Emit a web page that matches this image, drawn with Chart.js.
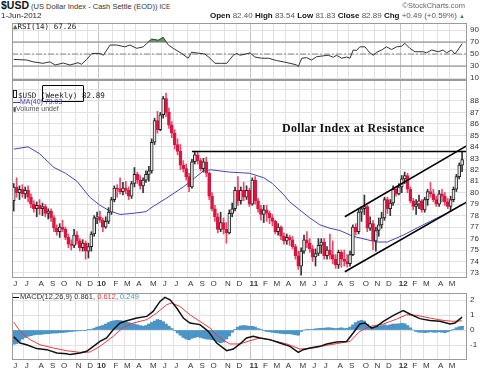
<!DOCTYPE html>
<html>
<head>
<meta charset="utf-8">
<script src="https://cdn.jsdelivr.net/npm/chart.js@4/dist/chart.umd.min.js"></script>
<style>
body { margin: 0; background: #fff; }
#wrap { position: relative; width: 489px; height: 371px; overflow: hidden; font-family: "Liberation Sans", Arial, sans-serif; color: #222; }
canvas { position: absolute; left: 0; }
.t { position: absolute; white-space: nowrap; line-height: 1; }
.mono { font-family: "DejaVu Sans Mono", monospace; }
</style>
</head>
<body>
<div id="wrap">
<canvas id="rsi" width="489" height="57" style="top:23px"></canvas>
<canvas id="price" width="489" height="210" style="top:80px"></canvas>
<canvas id="macd" width="489" height="78" style="top:293px"></canvas>

<div class="t" style="left:1px;top:0px;font-size:7.5px;color:#333"><b style="font-size:10.5px;color:#111">$USD</b> (US Dollar Index - Cash Settle (EOD)) <span style="font-size:6.5px">ICE</span></div>
<div class="t" style="right:24px;top:2px;font-size:7.5px;color:#666">&copy;StockCharts.com</div>
<div class="t" style="left:1px;top:12px;font-size:8px;color:#222">1-Jun-2012</div>
<div class="t" style="right:24px;top:12px;font-size:8px;color:#555"><b style="color:#111">Open</b> 82.40 <b style="color:#111">High</b> 83.54 <b style="color:#111">Low</b> 81.83 <b style="color:#111">Close</b> 82.89 <b style="color:#111">Chg</b> +0.49 (+0.59%) <span style="color:#3a8a3a;font-size:6px">&#9650;</span></div>

<div class="t mono" style="left:13px;top:23px;font-size:7.5px;color:#222"><span style="color:#3a7a3a">&#9650;</span>RSI(14) 67.26</div>

<div class="t mono" style="left:13px;top:90px;font-size:7.6px;color:#222"><span style="display:inline-block;width:2px;height:6px;border:1px solid #222;margin-right:1px"></span>$USD (Weekly) 82.89</div>
<div class="t" style="left:42px;top:85px;width:40px;height:15px;border:1px solid #000;border-radius:1px"></div>
<div class="t" style="left:13px;top:98px;font-size:7px;color:#3b3bb0"><span style="display:inline-block;width:7px;border-top:1.5px solid #3b3bb0;vertical-align:middle"></span>MA(40) 79.03</div>
<div class="t" style="left:13px;top:105px;font-size:7px;color:#555"><span style="font-size:6px">&#9646;</span>Volume undef</div>

<div class="t" style="left:282px;top:122px;font-family:'Liberation Serif','DejaVu Serif',serif;font-weight:bold;font-size:12px;letter-spacing:0.3px;color:#111">Dollar Index at Resistance</div>

<div class="t" style="left:13px;top:293px;font-size:7.5px;color:#333"><span style="display:inline-block;width:6px;border-top:1.5px solid #000;vertical-align:middle;margin-right:1px"></span>MACD(12,26,9) 0.861, <span style="color:#f03a3a">0.612</span>, <span style="color:#3c9ad0">0.249</span></div>
</div>

<script>
// weekly bars, week 0 = 5-Jun-2009 ... week 156 = 1-Jun-2012
const opens = [
  79.3, 80.5, 80.0, 80.3,  79.9, 80.2, 79.6, 79.0, 78.6,  78.9, 78.6, 78.8, 78.2,
  78.4, 77.8, 76.9, 76.6,  77.0, 76.8, 76.1, 75.5, 75.4,  76.3, 75.8, 75.2, 75.6,
  74.9, 75.3, 76.4, 77.8,
  77.9, 77.6, 77.0, 77.5, 78.3,  79.4, 80.4, 80.3, 80.1,  80.4, 80.2, 79.7, 80.8,
  81.6, 81.1, 80.6, 81.1, 81.6,  81.9, 84.4, 86.3, 85.5,  86.8, 88.2, 87.0, 85.9,
  85.2, 84.2, 83.6, 82.4, 82.1,  81.4, 80.5, 82.7, 83.3,  82.8, 82.1, 82.7, 81.7,
  79.7, 78.6, 77.9, 76.8, 77.4,  76.8, 76.5, 78.2, 78.6,  80.2, 79.3, 80.2, 79.6, 80.2,
  79.0, 81.1, 79.3, 78.6,  78.1, 78.5, 78.2, 77.8,  77.5, 76.6, 77.0, 76.2,
  75.8, 76.1, 75.9, 75.3, 74.5,  73.6, 74.9, 75.9, 75.6,  75.1, 74.4, 74.7, 75.4,
  75.7, 74.5, 75.0, 74.6, 74.2,  73.7, 74.8, 74.2, 74.0,  73.8, 74.6, 77.0, 76.6, 78.3,
  78.6, 78.8, 76.9, 77.3,  75.8, 76.7, 77.2, 77.8,  79.4, 78.6, 79.1, 80.3, 79.9,
  80.5, 81.2, 81.5, 80.3,  79.3, 78.8, 79.0, 79.3,  78.5, 79.4, 80.1, 79.9, 79.4,
  79.0, 79.9, 79.7, 79.2,  78.8, 79.4, 80.3, 81.4,  82.40
];
const highs = [
  80.8, 81.3, 80.6, 80.7,  80.5, 80.6, 79.9, 79.3, 79.2,  79.4, 79.1, 79.0, 78.6,
  78.6, 78.0, 77.2, 77.3,  77.6, 77.0, 76.4, 75.9, 76.8,  76.6, 76.0, 75.9, 75.8,
  75.6, 76.6, 78.0, 78.3,
  78.4, 77.8, 77.9, 78.7, 79.6,  80.6, 80.7, 81.3, 80.9,  81.0, 80.5, 81.0, 82.2,
  81.8, 81.5, 81.3, 81.9, 82.3,  84.7, 86.5, 87.1, 87.0,  88.4, 88.7, 87.4, 86.2,
  85.5, 84.7, 84.2, 82.8, 82.5,  81.7, 82.9, 83.6, 83.6,  83.0, 83.0, 83.1, 81.8,
  80.0, 78.9, 78.2, 78.3, 77.8,  77.4, 78.5, 79.1, 80.5,  81.4, 80.5, 80.9, 80.6, 80.4,
  81.3, 81.4, 79.5, 78.9,  78.9, 78.9, 78.4, 78.1,  77.6, 77.3, 77.1, 76.5,
  76.4, 76.3, 76.2, 75.5, 74.9,  75.2, 76.3, 76.6, 76.0,  75.4, 75.1, 76.0, 76.0,
  76.0, 75.3, 76.4, 75.8, 74.6,  75.0, 75.0, 75.0, 74.6,  74.9, 77.2, 77.3, 78.6, 78.8,
  79.8, 78.9, 77.9, 77.6,  77.0, 77.8, 78.3, 79.6,  79.6, 79.4, 80.6, 80.5, 80.8,
  81.5, 81.8, 81.7, 80.5,  79.5, 79.4, 79.8, 79.4,  79.6, 80.3, 80.9, 80.3, 79.7,
  80.2, 80.3, 80.0, 79.5,  79.7, 80.5, 81.6, 82.6,  83.54
];
const lows = [
  78.4, 79.6, 79.4, 79.6,  79.5, 79.2, 78.7, 78.3, 77.9,  78.1, 78.0, 77.9, 77.7,
  77.5, 76.6, 76.3, 76.1,  76.6, 75.9, 75.2, 75.0, 75.2,  75.5, 74.9, 74.9, 74.2,
  74.3, 74.9, 76.2, 77.3,
  77.4, 76.6, 76.9, 77.3, 78.1,  79.2, 79.6, 79.9, 79.8,  79.9, 79.4, 79.5, 80.5,
  80.8, 80.3, 80.0, 80.9, 81.0,  81.7, 84.2, 85.2, 85.4,  86.5, 86.6, 85.6, 84.8,
  83.8, 83.3, 82.0, 81.8, 81.1,  80.1, 80.4, 82.5, 82.5,  81.9, 81.8, 81.4, 79.4,
  78.4, 77.5, 76.5, 76.6, 76.4,  75.6, 76.4, 77.9, 78.4,  78.9, 79.0, 79.3, 79.4, 78.8,
  78.9, 79.0, 78.3, 77.6,  77.4, 77.5, 77.3, 77.1,  76.4, 76.3, 75.9, 75.5,
  75.5, 75.4, 75.1, 74.2, 73.3,  72.8, 74.7, 75.2, 74.8,  74.0, 73.6, 74.5, 74.7,
  74.2, 74.2, 74.2, 73.8, 73.4,  73.4, 73.5, 73.6, 73.5,  73.6, 74.5, 76.3, 76.4, 77.5,
  78.1, 76.6, 76.7, 75.0,  74.9, 76.2, 76.9, 77.6,  78.2, 78.0, 78.9, 79.7, 79.8,
  80.0, 80.8, 80.0, 79.1,  78.5, 78.1, 78.6, 78.3,  78.3, 78.9, 79.6, 79.2, 78.8,
  78.8, 79.2, 78.9, 78.6,  78.4, 79.2, 80.1, 81.2,  81.83
];
const closes = [
  80.5, 80.0, 80.3, 79.9,  80.2, 79.6, 79.0, 78.6, 78.9,  78.6, 78.8, 78.2, 78.4,
  77.8, 76.9, 76.6, 77.0,  76.8, 76.1, 75.5, 75.4, 76.3,  75.8, 75.2, 75.6, 74.9,
  75.3, 76.4, 77.8, 77.9,
  77.6, 77.0, 77.5, 78.3, 79.4,  80.4, 80.3, 80.1, 80.4,  80.2, 79.7, 80.8, 81.6,
  81.1, 80.6, 81.1, 81.6, 81.9,  84.4, 86.3, 85.5, 86.8,  88.2, 87.0, 85.9, 85.2,
  84.2, 83.6, 82.4, 82.1, 81.4,  80.5, 82.7, 83.3, 82.8,  82.1, 82.7, 81.7, 79.7,
  78.6, 77.9, 76.8, 77.4, 76.8,  76.5, 78.2, 78.6, 80.2,  79.3, 80.2, 79.6, 80.2, 79.0,
  81.1, 79.3, 78.6, 78.1,  78.5, 78.2, 77.8, 77.5,  76.6, 77.0, 76.2, 75.8,
  76.1, 75.9, 75.3, 74.5, 73.6,  74.9, 75.9, 75.6, 75.1,  74.4, 74.7, 75.4, 75.7,
  74.5, 75.0, 74.6, 74.2, 73.7,  74.8, 74.2, 74.0, 73.8,  74.6, 77.0, 76.6, 78.3, 78.6,
  78.8, 76.9, 77.3, 75.8,  76.7, 77.2, 77.8, 79.4,  78.6, 79.1, 80.3, 79.9, 80.5,
  81.2, 81.5, 80.3, 79.3,  78.8, 79.0, 79.3, 78.5,  79.4, 80.1, 79.9, 79.4, 79.0,
  79.9, 79.7, 79.2, 78.8,  79.4, 80.3, 81.4, 82.4,  82.89
];

// 40-week moving average
const maWeeks  = [0, 5, 9, 14, 18, 22, 26.5, 30, 33.5, 37, 41.5, 46, 48.5, 53, 59, 63, 66, 68.5, 75, 82, 87, 90, 94, 96, 99.5, 103, 106.5, 110, 113.5, 118, 123, 126, 130, 135.5, 142.5, 150.5, 156];
const maValues = [83.8, 84.0, 83.4, 82.2, 81.7, 81.0, 79.6, 78.9, 78.4, 78.1, 78.2, 78.35, 78.8, 79.5, 80.5, 81.3, 81.9, 82.0, 81.8, 81.7, 81.3, 80.8, 79.8, 79.2, 78.5, 77.8, 77.2, 76.9, 76.7, 76.2, 75.9, 75.7, 75.7, 76.3, 77.2, 78.2, 79.0];

// RSI(14)
const rsiWeeks  = [0, 4.5, 6.7, 10.2, 12.6, 14.4, 17.2, 19.6, 22.4, 23.6, 25.4, 27.2, 30, 31.2, 33.5, 35.8, 38.7, 40.4, 42.8, 45.1, 46.3, 48, 50.3, 52, 53.8, 55.5, 58.4, 60.7, 61.9, 64.8, 66.5, 68.3, 70, 72.3, 74.1, 76.4, 77.6, 78.7, 80.4, 82.2, 83.9, 86.3, 88.6, 91.5, 93.8, 96.1, 98.4, 99, 100.2, 101.9, 103.6, 105.4, 107.7, 109.4, 111.2, 112.3, 114.1, 115.8, 117, 118.1, 119.3, 120.4, 122.2, 123.9, 125.1, 126.3, 128, 129.7, 131.5, 133.2, 134.9, 136.1, 137.8, 139.6, 142.5, 143.6, 145.4, 147.7, 149.4, 150.6, 152.3, 153.5, 155, 156];
const rsiValues = [41, 40, 37, 34.5, 37, 31.7, 35, 31.7, 35.5, 33, 41, 51, 51, 48, 65, 65, 62, 65, 59.5, 62, 67.8, 75, 73, 77.8, 65, 59.5, 51, 43, 53, 51, 50, 43, 34.5, 34.5, 34.5, 48, 51, 48, 49.5, 52, 45, 43, 43, 39, 37, 34.5, 32, 29, 43, 44, 40, 45.5, 47, 48, 44.5, 48, 43, 45, 43, 56.7, 56, 62, 62, 52, 48, 53, 56.7, 62, 57.5, 62, 63, 67.8, 59.5, 53.8, 53.8, 52, 56.7, 53.8, 56.7, 52, 56.7, 50, 60, 67.3];
const rsiLevels = [30, 50, 70];

// MACD(12,26,9)
const macdWeeks  = [0, 2.2, 4.5, 8, 11.5, 15, 18.4, 19.6, 23.1, 25.4, 27.7, 30, 32.3, 34.6, 37, 39.3, 42.8, 46.3, 48.5, 50.9, 52.6, 54.4, 56.7, 59, 61.3, 64.8, 67.7, 70.6, 74.1, 76.4, 78.7, 81, 83.3, 85.7, 89.1, 92.6, 96.1, 99, 100.7, 103.1, 106.5, 108.9, 112.3, 115.8, 118.1, 120.4, 122.2, 124.5, 126.3, 128.6, 132.1, 135.5, 137.8, 141.3, 144.8, 148.3, 151.8, 153.5, 156];
const macdValues = [-0.45, -0.87, -0.98, -1.24, -1.31, -1.53, -1.58, -1.64, -1.53, -1.42, -1.09, -0.76, -0.53, 0.02, 0.47, 0.62, 0.8, 0.91, 1.24, 1.91, 2.18, 2.02, 1.47, 0.8, 0.47, 0.36, -0.09, -0.87, -1.38, -1.27, -0.93, -0.53, -0.42, -0.53, -0.64, -0.87, -1.09, -1.49, -1.31, -1.2, -1.09, -0.93, -0.8, -0.76, -0.2, 0.4, 0.47, 0.13, 0.24, 0.58, 0.98, 1.29, 1.07, 0.76, 0.64, 0.58, 0.4, 0.47, 0.861];
const signalWeeks  = [0, 2.2, 5.7, 9.1, 13.8, 18.4, 23.1, 26.5, 30, 34.6, 38.1, 41.6, 46.3, 49.7, 53.2, 54.9, 57.8, 61.3, 64.8, 68.3, 71.7, 75.2, 78.7, 82.2, 85.7, 90.3, 95, 99.6, 104.2, 108.9, 113.5, 117, 120.4, 123.9, 128.6, 133.2, 136.7, 140.2, 144.8, 149.4, 152.9, 156];
const signalValues = [0.53, -0.09, -0.64, -0.98, -1.2, -1.38, -1.49, -1.47, -1.09, -0.42, 0.18, 0.47, 0.69, 1.13, 1.69, 1.8, 1.58, 1.02, 0.58, 0.13, -0.53, -0.93, -0.93, -0.71, -0.53, -0.71, -0.93, -1.27, -1.2, -1.02, -0.87, -0.76, -0.09, 0.24, 0.4, 0.73, 1.02, 0.98, 0.8, 0.64, 0.58, 0.612];
const histogram = [
  -0.95, -0.9, -0.75, -0.6,  -0.5, -0.42, -0.38, -0.33, -0.3,  -0.3, -0.28, -0.25, -0.25,
  -0.22, -0.2, -0.2, -0.18,  -0.17, -0.15, -0.12, -0.1, -0.08,  -0.06, -0.05, -0.03, -0.02,
  0.02, 0.05, 0.12, 0.2,
  0.25, 0.3, 0.4, 0.5, 0.58,  0.62, 0.65, 0.63, 0.6,  0.55, 0.5, 0.45, 0.4,
  0.35, 0.3, 0.25, 0.3, 0.4,  0.5, 0.6, 0.7, 0.65,  0.55, 0.4, 0.25, 0.1,
  -0.05, -0.2, -0.35, -0.5, -0.6,  -0.65, -0.55, -0.5, -0.45,  -0.5, -0.55, -0.6, -0.62,
  -0.65, -0.7, -0.8, -0.85, -0.8,  -0.6, -0.4, -0.15, 0.05,  0.2, 0.28, 0.3, 0.28, 0.25,
  0.25, 0.2, 0.1, 0.05,  -0.05, -0.1, -0.12, -0.15,  -0.18, -0.2, -0.22, -0.25,
  -0.25, -0.25, -0.28, -0.32, -0.35,  -0.1, 0.0, 0.02, 0.02,  0.05, 0.08, 0.1, 0.12,
  0.12, 0.15, 0.15, 0.12, 0.1,  0.12, 0.15, 0.1, 0.12,  0.2, 0.35, 0.5, 0.6, 0.65,
  0.6, 0.4, 0.2, 0.15,  0.2, 0.25, 0.3, 0.35,  0.3, 0.35, 0.4, 0.4, 0.42,
  0.45, 0.42, 0.3, 0.15,  0.0, -0.1, -0.15, -0.15,  -0.18, -0.15, -0.12, -0.15, -0.15,
  -0.12, -0.15, -0.18, -0.12,  -0.05, 0.05, 0.15, 0.22,  0.249
];

// drawn trend lines (week, price)
const resistanceLine = [{ x: 62, y: 83.6 }, { x: 157.7, y: 83.6 }];
const upperChannel = [{ x: 115.2, y: 77.9 }, { x: 157.7, y: 84.1 }];
const lowerChannel = [{ x: 115.2, y: 73.1 }, { x: 157.7, y: 79.2 }];

// axis ticks
const monthLabels = ['J','J','A','S','O','N','D','10','F','M','A','M','J','J','A','S','O','N','D','11','F','M','A','M','J','J','A','S','O','N','D','12','F','M','A','M'];
const monthFirstWeek = [0,4,9,13,17,22,26, 30,35,39,43,48,52,56,61,65,69,74,78, 83,87,91,95,100,104,108,113,117,122,126,130, 135,139,143,148,152];
const priceTicks = [73,74,75,76,77,78,79,80,81,82,83,84,85,86,87,88,89];
const rsiTicks = [10, 30, 50, 70, 90];
const macdTicks = [-1, 0, 1, 2];

const X_MIN = -0.6, X_MAX = 157.7;
const RED = '#dc1540';

Chart.defaults.font.family = '"Liberation Sans", Arial, sans-serif';
Chart.defaults.font.size = 8;
Chart.defaults.color = '#222';

const isYear = i => /^\d/.test(monthLabels[i] || '');

const framePlugin = {
  id: 'frame',
  afterDraw(chart) {
    const { ctx, chartArea: a } = chart;
    ctx.save();
    ctx.strokeStyle = '#9a9a9a';
    ctx.lineWidth = 1;
    ctx.strokeRect(Math.round(a.left) + 0.5, Math.round(a.top) + 0.5, Math.round(a.width) - 1, Math.round(a.height) - 1);
    ctx.restore();
  }
};

function noPad(s) { s.paddingLeft = 0; s.paddingRight = 0; s.paddingTop = 0; s.paddingBottom = 0; }

function xAxis(labelHeight) {
  return {
    type: 'linear', min: X_MIN, max: X_MAX, offset: false, bounds: 'data',
    afterBuildTicks: s => { s.ticks = monthFirstWeek.map(w => ({ value: w - 0.5 })); },
    afterFit: s => { s.height = labelHeight; noPad(s); },
    grid: { offset: false, drawTicks: false, color: ctx => isYear(ctx.index) ? '#c4c4c4' : '#e2e2e2' },
    border: { display: false },
    ticks: {
      display: labelHeight > 0, autoSkip: false, maxRotation: 0, padding: 1, labelOffset: 3,
      color: '#333',
      font: ctx => ({ size: 8, weight: isYear(ctx.index) ? 'bold' : 'normal' }),
      callback: (v, i) => monthLabels[i]
    }
  };
}

function yAxis(min, max, ticks, fmt) {
  return {
    type: 'linear', position: 'right', min: min, max: max,
    afterBuildTicks: s => { s.ticks = ticks.map(v => ({ value: v })); },
    afterFit: s => { s.width = 22; noPad(s); },
    grid: { drawTicks: false, color: '#e2e2e2' },
    border: { display: false },
    ticks: { padding: 3, autoSkip: false, color: '#333', font: { size: 8 }, callback: fmt }
  };
}

const baseOptions = (x, y) => ({
  responsive: false, animation: false, events: [],
  layout: { padding: { left: 12, right: 0, top: 0, bottom: 0 } },
  plugins: { legend: { display: false }, tooltip: { enabled: false } },
  scales: { x: x, y: y }
});

const pts = (xs, ys) => xs.map((x, i) => ({ x: x, y: ys[i] }));
const lineSet = (data, color, width, order, extra) => Object.assign({
  type: 'line', data: data, borderColor: color, borderWidth: width,
  pointRadius: 0, tension: 0, fill: false, order: order
}, extra || {});

// RSI panel
new Chart(document.getElementById('rsi'), {
  type: 'line',
  data: {
    datasets: [
      lineSet(pts(rsiWeeks, rsiValues), '#333', 1, 0, {
        fill: { target: { value: 70 }, above: 'rgba(70,140,70,0.85)', below: 'rgba(0,0,0,0)' }
      }),
      ...rsiLevels.map(l => lineSet([{ x: X_MIN, y: l }, { x: X_MAX, y: l }], l === 50 ? '#8a8a8a' : '#808080', 1, 1,
        l === 50 ? { borderDash: [6, 2, 2, 2] } : {}))
    ]
  },
  options: baseOptions(xAxis(0), yAxis(6.7, 101.7, rsiTicks, v => v)),
  plugins: [framePlugin]
});

// price panel
new Chart(document.getElementById('price'), {
  type: 'bar',
  data: {
    datasets: [
      lineSet(resistanceLine, '#000', 1.6, 0),
      lineSet(upperChannel, '#000', 1.6, 0),
      lineSet(lowerChannel, '#000', 1.6, 0),
      {
        type: 'bar', order: 1, grouped: false, barThickness: 3,
        data: closes.map((c, i) => ({ x: i, y: [opens[i], c] })),
        backgroundColor: closes.map((c, i) => c >= opens[i] ? '#e6e6e6' : RED),
        borderColor: closes.map((c, i) => c >= opens[i] ? '#222' : RED),
        borderWidth: 1, borderSkipped: false
      },
      {
        type: 'bar', order: 2, grouped: false, barThickness: 1,
        data: closes.map((c, i) => ({ x: i, y: [lows[i], highs[i]] })),
        backgroundColor: closes.map((c, i) => c >= opens[i] ? '#333' : '#e8486a'),
        borderWidth: 0
      },
      lineSet(pts(maWeeks, maValues), '#4545b2', 1, 3)
    ]
  },
  options: baseOptions(xAxis(12), yAxis(72.56, 89.83, priceTicks, v => v === 89 ? '' : v)),
  plugins: [framePlugin]
});

// MACD panel
new Chart(document.getElementById('macd'), {
  type: 'bar',
  data: {
    datasets: [
      lineSet(pts(macdWeeks, macdValues), '#111', 1.5, 0),
      lineSet(pts(signalWeeks, signalValues), '#f03a3a', 1, 1),
      {
        type: 'bar', order: 2, grouped: false, barPercentage: 1, categoryPercentage: 1,
        data: histogram.map((v, i) => ({ x: i, y: v })),
        backgroundColor: '#4a94c8', borderColor: '#2f75a8', borderWidth: 0
      }
    ]
  },
  options: baseOptions(xAxis(11), yAxis(-2.0, 2.47, macdTicks, v => v)),
  plugins: [framePlugin]
});
</script>
</body>
</html>
